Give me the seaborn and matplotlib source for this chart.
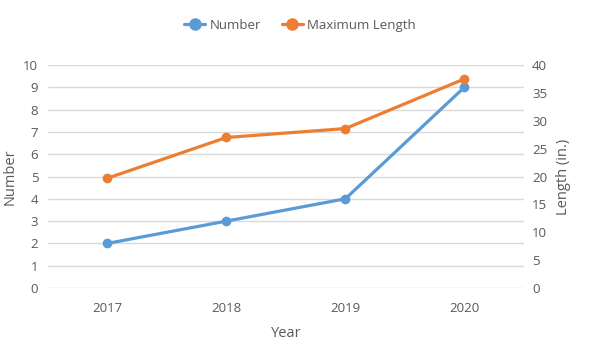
import matplotlib
matplotlib.use("Agg")
import matplotlib.pyplot as plt
import seaborn as sns
import pandas as pd
from matplotlib.lines import Line2D

# chart data
years = ["2017", "2018", "2019", "2020"]
number = [2, 3, 4, 9]
max_length = [19.7, 27.0, 28.6, 37.5]

df = pd.DataFrame({"Year": years, "Number": number, "Maximum Length": max_length})

sns.set_style("white")
plt.rcParams['font.family'] = ['Open Sans', 'DejaVu Sans']

blue = "#5b9bd5"
orange = "#ed7d31"
grey = "#595959"

fig = plt.figure(figsize=(6, 3.6), dpi=100)
ax = fig.add_axes([0.08, 0.2, 0.793, 0.6194])
ax2 = ax.twinx()

sns.lineplot(data=df, x="Year", y="Number", ax=ax, color=blue, marker="o",
             markersize=7, markeredgewidth=0, linewidth=2.3, sort=False)
sns.lineplot(data=df, x="Year", y="Maximum Length", ax=ax2, color=orange, marker="o",
             markersize=7, markeredgewidth=0, linewidth=2.3, sort=False)

ax.set_xlim(-0.5, 3.5)
ax.set_ylim(0, 10)
ax.set_yticks(range(0, 11))
ax2.set_ylim(0, 40)
ax2.set_yticks(range(0, 41, 5))

ax.grid(axis="y", color="#d9d9d9", linewidth=1)
ax.set_axisbelow(True)
for a in (ax, ax2):
    for s in a.spines.values():
        s.set_visible(False)
    a.tick_params(length=0, labelsize=9.5, colors=grey)
ax.tick_params(axis="x", pad=10)
ax.tick_params(axis="y", pad=7)
ax2.tick_params(axis="y", pad=6)

ax.set_xlabel("Year", fontsize=10.5, color=grey, labelpad=8)
ax.set_ylabel("Number", fontsize=10.5, color=grey, labelpad=4)
ax2.set_ylabel("Length (in.)", fontsize=10.5, color=grey, labelpad=6)

handles = [Line2D([], [], color=blue, marker="o", markersize=8, linewidth=2.3),
           Line2D([], [], color=orange, marker="o", markersize=8, linewidth=2.3)]
fig.legend(handles, ["Number", "Maximum Length"], loc="center", ncol=2,
           bbox_to_anchor=(0.5, 0.93), frameon=False, fontsize=9.5,
           labelcolor=grey, handlelength=1.6, handletextpad=0.3, columnspacing=1.6)

fig.savefig("out.png", dpi=100)
